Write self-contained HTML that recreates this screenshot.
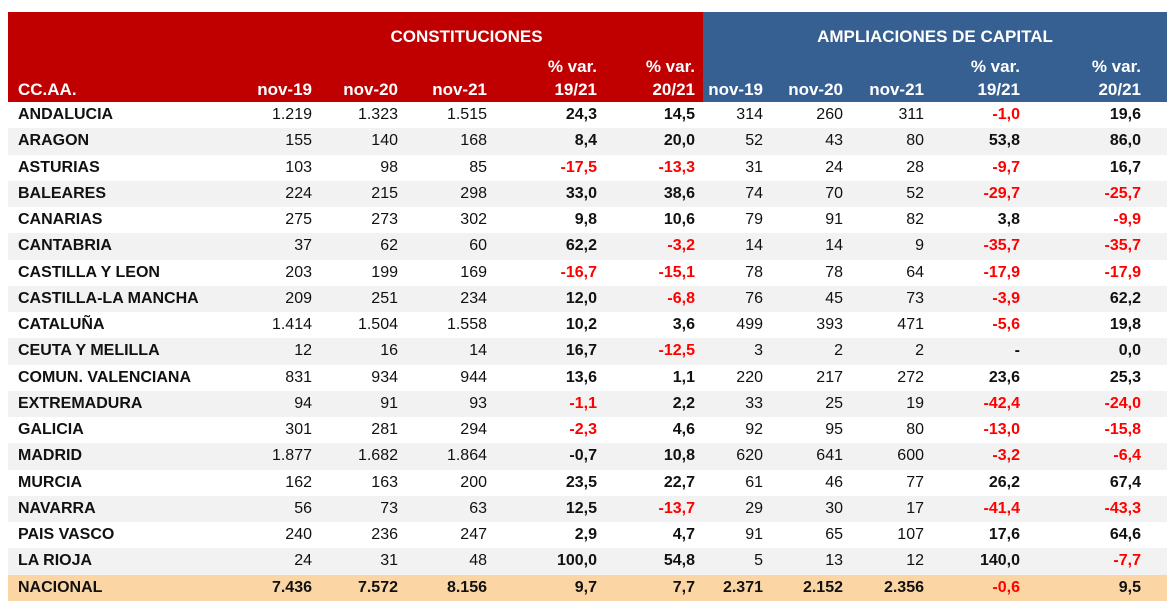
<!DOCTYPE html>
<html><head><meta charset="utf-8"><style>
body{margin:0;background:#fff;width:1170px;height:614px;overflow:hidden;font-family:"Liberation Sans",sans-serif;}
table{position:absolute;left:8px;top:12px;border-collapse:collapse;table-layout:fixed;font-size:16px;}
td{padding:0 4px 0 0;text-align:right;white-space:nowrap;overflow:hidden;color:#111;}
td.n{text-align:left;padding-left:10px;font-weight:bold;}
.hr td{color:#fff;font-weight:bold;font-size:17px;}
.r{background:#c00000;}.b{background:#366092;}
tr.d td{height:26.26px;line-height:26px;}
tr.g td{background:#f2f2f2;}
tr.t td{background:#fcd5a4;font-weight:bold;}
td.p{font-weight:bold;}
.neg{color:#ff0000 !important;}
td.c5{padding-right:8px;}td.c10{padding-right:26px;}
</style></head><body>
<table>
<colgroup><col style="width:222px"><col style="width:86px"><col style="width:86px"><col style="width:89px"><col style="width:110px"><col style="width:102px"><col style="width:64px"><col style="width:80px"><col style="width:81px"><col style="width:96px"><col style="width:143px"></colgroup>
<tr class="hr" style="height:40px"><td class="r"></td><td class="r" colspan="5" style="text-align:center;padding:10px 0 0 0">CONSTITUCIONES</td><td class="b" colspan="5" style="text-align:center;padding:10px 0 0 0">AMPLIACIONES DE CAPITAL</td></tr>
<tr class="hr" style="height:26px"><td class="r"></td><td class="r"></td><td class="r"></td><td class="r"></td><td class="r" style="padding-top:4px">% var.</td><td class="r c5" style="padding-top:4px">% var.</td><td class="b"></td><td class="b"></td><td class="b"></td><td class="b" style="padding-top:4px">% var.</td><td class="b c10" style="padding-top:4px">% var.</td></tr>
<tr class="hr" style="height:24px"><td class="r n" style="color:#fff">CC.AA.</td><td class="r">nov-19</td><td class="r">nov-20</td><td class="r">nov-21</td><td class="r">19/21</td><td class="r c5">20/21</td><td class="b">nov-19</td><td class="b">nov-20</td><td class="b">nov-21</td><td class="b">19/21</td><td class="b c10">20/21</td></tr>
<tr class="d"><td class="n">ANDALUCIA</td><td>1.219</td><td>1.323</td><td>1.515</td><td class="p">24,3</td><td class="p c5">14,5</td><td>314</td><td>260</td><td>311</td><td class="p neg">-1,0</td><td class="p c10">19,6</td></tr>
<tr class="d g"><td class="n">ARAGON</td><td>155</td><td>140</td><td>168</td><td class="p">8,4</td><td class="p c5">20,0</td><td>52</td><td>43</td><td>80</td><td class="p">53,8</td><td class="p c10">86,0</td></tr>
<tr class="d"><td class="n">ASTURIAS</td><td>103</td><td>98</td><td>85</td><td class="p neg">-17,5</td><td class="p c5 neg">-13,3</td><td>31</td><td>24</td><td>28</td><td class="p neg">-9,7</td><td class="p c10">16,7</td></tr>
<tr class="d g"><td class="n">BALEARES</td><td>224</td><td>215</td><td>298</td><td class="p">33,0</td><td class="p c5">38,6</td><td>74</td><td>70</td><td>52</td><td class="p neg">-29,7</td><td class="p c10 neg">-25,7</td></tr>
<tr class="d"><td class="n">CANARIAS</td><td>275</td><td>273</td><td>302</td><td class="p">9,8</td><td class="p c5">10,6</td><td>79</td><td>91</td><td>82</td><td class="p">3,8</td><td class="p c10 neg">-9,9</td></tr>
<tr class="d g"><td class="n">CANTABRIA</td><td>37</td><td>62</td><td>60</td><td class="p">62,2</td><td class="p c5 neg">-3,2</td><td>14</td><td>14</td><td>9</td><td class="p neg">-35,7</td><td class="p c10 neg">-35,7</td></tr>
<tr class="d"><td class="n">CASTILLA Y LEON</td><td>203</td><td>199</td><td>169</td><td class="p neg">-16,7</td><td class="p c5 neg">-15,1</td><td>78</td><td>78</td><td>64</td><td class="p neg">-17,9</td><td class="p c10 neg">-17,9</td></tr>
<tr class="d g"><td class="n">CASTILLA-LA MANCHA</td><td>209</td><td>251</td><td>234</td><td class="p">12,0</td><td class="p c5 neg">-6,8</td><td>76</td><td>45</td><td>73</td><td class="p neg">-3,9</td><td class="p c10">62,2</td></tr>
<tr class="d"><td class="n">CATALUÑA</td><td>1.414</td><td>1.504</td><td>1.558</td><td class="p">10,2</td><td class="p c5">3,6</td><td>499</td><td>393</td><td>471</td><td class="p neg">-5,6</td><td class="p c10">19,8</td></tr>
<tr class="d g"><td class="n">CEUTA Y MELILLA</td><td>12</td><td>16</td><td>14</td><td class="p">16,7</td><td class="p c5 neg">-12,5</td><td>3</td><td>2</td><td>2</td><td class="p">-</td><td class="p c10">0,0</td></tr>
<tr class="d"><td class="n">COMUN. VALENCIANA</td><td>831</td><td>934</td><td>944</td><td class="p">13,6</td><td class="p c5">1,1</td><td>220</td><td>217</td><td>272</td><td class="p">23,6</td><td class="p c10">25,3</td></tr>
<tr class="d g"><td class="n">EXTREMADURA</td><td>94</td><td>91</td><td>93</td><td class="p neg">-1,1</td><td class="p c5">2,2</td><td>33</td><td>25</td><td>19</td><td class="p neg">-42,4</td><td class="p c10 neg">-24,0</td></tr>
<tr class="d"><td class="n">GALICIA</td><td>301</td><td>281</td><td>294</td><td class="p neg">-2,3</td><td class="p c5">4,6</td><td>92</td><td>95</td><td>80</td><td class="p neg">-13,0</td><td class="p c10 neg">-15,8</td></tr>
<tr class="d g"><td class="n">MADRID</td><td>1.877</td><td>1.682</td><td>1.864</td><td class="p">-0,7</td><td class="p c5">10,8</td><td>620</td><td>641</td><td>600</td><td class="p neg">-3,2</td><td class="p c10 neg">-6,4</td></tr>
<tr class="d"><td class="n">MURCIA</td><td>162</td><td>163</td><td>200</td><td class="p">23,5</td><td class="p c5">22,7</td><td>61</td><td>46</td><td>77</td><td class="p">26,2</td><td class="p c10">67,4</td></tr>
<tr class="d g"><td class="n">NAVARRA</td><td>56</td><td>73</td><td>63</td><td class="p">12,5</td><td class="p c5 neg">-13,7</td><td>29</td><td>30</td><td>17</td><td class="p neg">-41,4</td><td class="p c10 neg">-43,3</td></tr>
<tr class="d"><td class="n">PAIS VASCO</td><td>240</td><td>236</td><td>247</td><td class="p">2,9</td><td class="p c5">4,7</td><td>91</td><td>65</td><td>107</td><td class="p">17,6</td><td class="p c10">64,6</td></tr>
<tr class="d g"><td class="n">LA RIOJA</td><td>24</td><td>31</td><td>48</td><td class="p">100,0</td><td class="p c5">54,8</td><td>5</td><td>13</td><td>12</td><td class="p">140,0</td><td class="p c10 neg">-7,7</td></tr>
<tr class="d t"><td class="n">NACIONAL</td><td>7.436</td><td>7.572</td><td>8.156</td><td>9,7</td><td class="c5">7,7</td><td>2.371</td><td>2.152</td><td>2.356</td><td class="neg">-0,6</td><td class="c10">9,5</td></tr>
</table>
</body></html>
